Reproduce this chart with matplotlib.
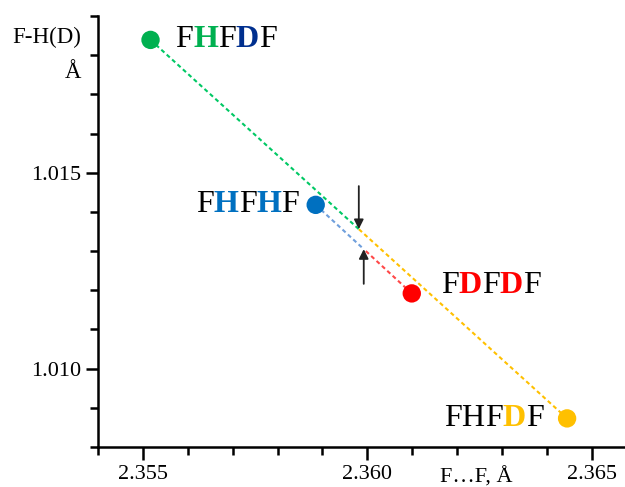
import matplotlib
matplotlib.use('Agg')
import matplotlib.pyplot as plt
from matplotlib.ticker import MultipleLocator

# isotopologue data: F...F distance and F-H(D) distance, both in angstrom
labels = [
    [('F', 'black'), ('H', '#00b050'), ('F', 'black'), ('D', '#002f8e'), ('F', 'black')],
    [('F', 'black'), ('H', '#0070c0'), ('F', 'black'), ('H', '#0070c0'), ('F', 'black')],
    [('F', 'black'), ('D', '#ff0000'), ('F', 'black'), ('D', '#ff0000'), ('F', 'black')],
    [('F', 'black'), ('H', 'black'), ('F', 'black'), ('D', '#ffc000'), ('F', 'black')],
]
ff_dist = [2.35517, 2.35885, 2.36099, 2.36445]
fh_dist = [1.01839, 1.01418, 1.01192, 1.00873]
point_colors = ['#00b050', '#0070c0', '#ff0000', '#ffc000']
line_colors = ['#00c864', '#6f9fdc', '#ff4848', '#ffc000']
pairs = [(0, 3), (1, 2)]

plt.rcParams['font.family'] = ['Liberation Serif', 'DejaVu Serif']

fig = plt.figure(figsize=(6.25, 4.87), dpi=100)
ax = fig.add_axes([98 / 625, 1 - 447 / 487, 1 - 98 / 625, (447 - 16) / 487])


def color_text(ax, x, y, parts, dx, dy, align='left', size=23):
    # draw a word letter by letter so each letter can get its own colour
    kw = dict(fontsize=size)
    order = parts if align == 'left' else parts[::-1]
    s, c = order[0]
    w = 'bold' if c != 'black' else 'normal'
    t = ax.annotate(s, (x, y), xytext=(dx, dy), textcoords='offset points',
                    ha=align, va='center', color=c, fontweight=w, **kw)
    for s, c in order[1:]:
        w = 'bold' if c != 'black' else 'normal'
        t = ax.annotate(s, xy=(1, 0) if align == 'left' else (0, 0), xycoords=t,
                        ha=align, va='bottom', color=c, fontweight=w, **kw)


# dotted connecting lines, each half in the colour of its end point
for a, b in pairs:
    mx = (ff_dist[a] + ff_dist[b]) / 2
    my = (fh_dist[a] + fh_dist[b]) / 2
    for i in (a, b):
        ax.plot([ff_dist[i], mx], [fh_dist[i], my], ls=(0, (2, 1.5)),
                lw=1.5, color=line_colors[i], zorder=2)

ax.scatter(ff_dist, fh_dist, s=175, c=point_colors, zorder=3, linewidths=0)

# arrows marking the crossing points
m0 = ((ff_dist[0] + ff_dist[3]) / 2, (fh_dist[0] + fh_dist[3]) / 2)
m1 = ((ff_dist[1] + ff_dist[2]) / 2, (fh_dist[1] + fh_dist[2]) / 2)
arrow = dict(arrowstyle='-|>', color='#222222', lw=1.3, shrinkA=0, shrinkB=0,
             mutation_scale=14)
ax.annotate('', xy=m0, xytext=(0, 31), textcoords='offset points', arrowprops=arrow)
ax.annotate('', xy=m1, xytext=(0, -25), textcoords='offset points', arrowprops=arrow)

color_text(ax, ff_dist[0], fh_dist[0], labels[0], 18, 0, 'left')
color_text(ax, ff_dist[1], fh_dist[1], labels[1], -12, 0, 'right')
color_text(ax, ff_dist[2], fh_dist[2], labels[2], 21, 6, 'left')
color_text(ax, ff_dist[3], fh_dist[3], labels[3], -17, 0, 'right')

ax.set_xlim(2.354, 2.36574)
ax.set_ylim(1.008, 1.019)
ax.set_xticks([2.355, 2.360, 2.365])
ax.set_xticklabels(['2.355', '2.360', '2.365'])
ax.set_yticks([1.010, 1.015])
ax.set_yticklabels(['1.010', '1.015'])
ax.xaxis.set_minor_locator(MultipleLocator(0.001))
ax.yaxis.set_minor_locator(MultipleLocator(0.001))
ax.tick_params(which='major', length=9, width=1.8, labelsize=16)
ax.tick_params(which='minor', length=5.5, width=1.8)
ax.tick_params(axis='x', pad=4)
ax.tick_params(axis='y', pad=3)
for side in ['top', 'right']:
    ax.spines[side].set_visible(False)
for side in ['left', 'bottom']:
    ax.spines[side].set_linewidth(1.8)

fig.text(81 / 625, 1 - 37 / 487, 'F-H(D)', ha='right', va='center', fontsize=16.5)
fig.text(81 / 625, 1 - 73 / 487, 'Å', ha='right', va='center', fontsize=16.5)
ax.annotate('F…F, Å', xy=(2.36243, 0), xycoords=('data', 'axes fraction'),
            xytext=(0, -14.5), textcoords='offset points', ha='center', va='top',
            fontsize=16)

fig.savefig('out.png', dpi=100)
